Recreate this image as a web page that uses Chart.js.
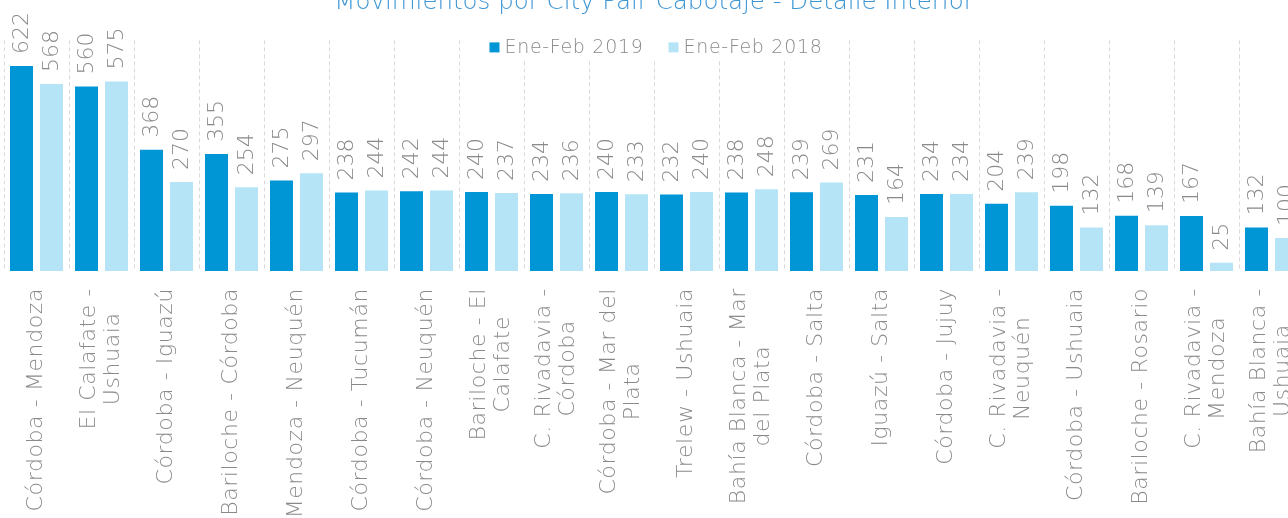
<!DOCTYPE html>
<html lang="es">
<head>
<meta charset="UTF-8">
<title>Movimientos por City Pair Cabotaje - Detalle Interior</title>
<script src="https://cdn.jsdelivr.net/npm/chart.js"></script>
<style>
  html, body { margin: 0; padding: 0; background: #fff; overflow: hidden; }
  #caja { position: relative; width: 1310px; height: 561px; margin-top: -40px; }
</style>
</head>
<body>
<div id="caja"><canvas id="grafico" width="1310" height="561"></canvas></div>
<script>
const categorias = [
  'Córdoba - Mendoza',
  ['El Calafate -', 'Ushuaia'],
  'Córdoba - Iguazú',
  'Bariloche - Córdoba',
  'Mendoza - Neuquén',
  'Córdoba - Tucumán',
  'Córdoba - Neuquén',
  ['Bariloche - El', 'Calafate'],
  ['C. Rivadavia -', 'Córdoba'],
  ['Córdoba - Mar del', 'Plata'],
  'Trelew - Ushuaia',
  ['Bahía Blanca - Mar', 'del Plata'],
  'Córdoba - Salta',
  'Iguazú - Salta',
  'Córdoba - Jujuy',
  ['C. Rivadavia -', 'Neuquén'],
  'Córdoba - Ushuaia',
  'Bariloche - Rosario',
  ['C. Rivadavia -', 'Mendoza'],
  ['Bahía Blanca -', 'Ushuaia']
];
const eneFeb2019 = [622, 560, 368, 355, 275, 238, 242, 240, 234, 240, 232, 238, 239, 231, 234, 204, 198, 168, 167, 132];
const eneFeb2018 = [568, 575, 270, 254, 297, 244, 244, 237, 236, 233, 240, 248, 269, 164, 234, 239, 132, 139, 25, 100];
const series = ['Ene-Feb 2019', 'Ene-Feb 2018'];
const colores = ['#0095d5', '#b4e4f5'];
const titulo = 'Movimientos por City Pair Cabotaje - Detalle Interior';

const FUENTE = '"DejaVu Sans"';
const GRIS = '#8a8a8a';

// etiquetas de valor, giradas
const etiquetasValor = {
  id: 'etiquetasValor',
  afterDatasetsDraw(chart) {
    const ctx = chart.ctx;
    ctx.save();
    ctx.font = '200 22px ' + FUENTE;
    ctx.fillStyle = GRIS;
    ctx.textAlign = 'left';
    ctx.textBaseline = 'middle';
    chart.data.datasets.forEach((ds, i) => {
      chart.getDatasetMeta(i).data.forEach((bar, j) => {
        ctx.save();
        ctx.translate(bar.x + 1, bar.y - 12);
        ctx.rotate(-Math.PI / 2);
        ctx.fillText(ds.data[j], 0, 0);
        ctx.restore();
      });
    });
    ctx.restore();
  }
};

// etiquetas del eje x con lineas centradas (como en Excel) y leyenda
const etiquetasEje = {
  id: 'etiquetasEje',
  afterDraw(chart) {
    const ctx = chart.ctx;
    const escala = chart.scales.x;
    ctx.save();
    ctx.font = '200 22px ' + FUENTE;
    ctx.letterSpacing = '0.6px';
    ctx.fillStyle = GRIS;
    ctx.textAlign = 'center';
    ctx.textBaseline = 'middle';
    const alto = 24;
    categorias.forEach((cat, i) => {
      const lineas = Array.isArray(cat) ? cat : [cat];
      const ancho = Math.max(...lineas.map(l => ctx.measureText(l).width));
      ctx.save();
      ctx.translate(escala.getPixelForTick(i), escala.top + 17 + ancho / 2);
      ctx.rotate(-Math.PI / 2);
      lineas.forEach((l, k) => {
        ctx.fillText(l, 0, (k - (lineas.length - 1) / 2) * alto);
      });
      ctx.restore();
    });

    // leyenda sobre la cuadricula
    const area = chart.chartArea;
    ctx.font = '200 19px ' + FUENTE;
    ctx.letterSpacing = '0.7px';
    ctx.textAlign = 'left';
    const anchos = series.map(s => ctx.measureText(s).width);
    const total = anchos.reduce((a, b) => a + b, 0) + series.length * 15 + (series.length - 1) * 25;
    let x = (area.left + area.right) / 2 + 2 - total / 2;
    const yc = area.top + 7;
    ctx.fillStyle = '#fff';
    ctx.fillRect(x - 6, yc - 11, total + 12, 22);
    series.forEach((s, i) => {
      ctx.fillStyle = colores[i];
      ctx.fillRect(x, yc - 5, 10, 10);
      ctx.fillStyle = GRIS;
      ctx.fillText(s, x + 15, yc + 1);
      x += 15 + anchos[i] + 25;
    });
    ctx.restore();
  }
};

new Chart(document.getElementById('grafico').getContext('2d'), {
  type: 'bar',
  data: {
    labels: categorias,
    datasets: [
      { label: series[0], data: eneFeb2019, backgroundColor: colores[0] },
      { label: series[1], data: eneFeb2018, backgroundColor: colores[1] }
    ]
  },
  options: {
    responsive: false,
    animation: false,
    categoryPercentage: 0.923,
    barPercentage: 0.767,
    layout: { padding: { left: 4, right: 6, top: 0, bottom: 0 } },
    plugins: {
      title: {
        display: true,
        text: titulo,
        color: '#3d96d4',
        font: { family: FUENTE, size: 24.5, weight: '200' },
        padding: { top: 28, bottom: 23 }
      },
      legend: { display: false },
      tooltip: { enabled: false }
    },
    scales: {
      x: {
        grid: { display: true, color: '#d9d9d9', lineWidth: 1, drawTicks: false, offset: true },
        border: { display: false, dash: [4, 3] },
        ticks: { color: 'rgba(0,0,0,0)', autoSkip: false, maxRotation: 90, minRotation: 90 },
        afterFit(escala) { escala.height = 250; }
      },
      y: {
        display: false,
        min: 0,
        max: 700
      }
    }
  },
  plugins: [etiquetasValor, etiquetasEje]
});
</script>
</body>
</html>
